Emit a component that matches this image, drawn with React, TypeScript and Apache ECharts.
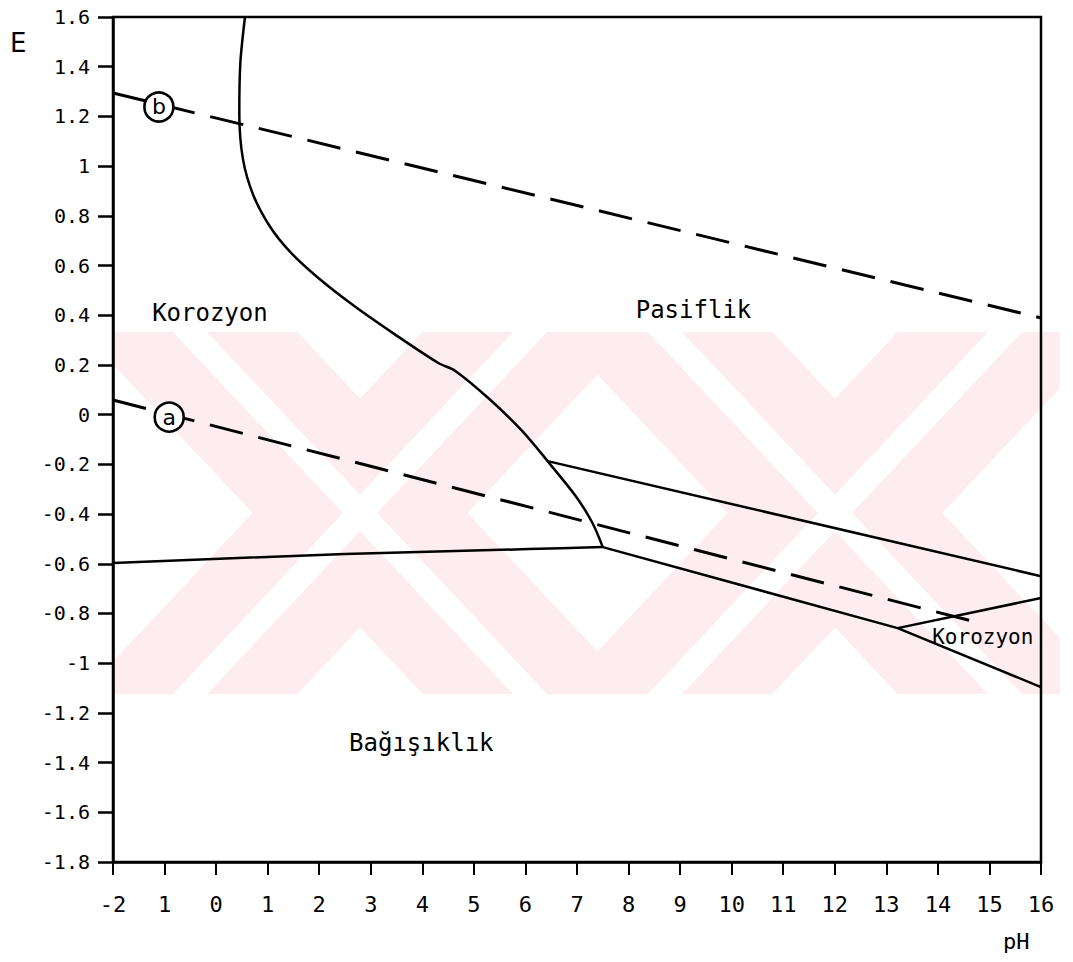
import React, { useEffect, useRef } from "react";
import * as echarts from "echarts";

// ---- data (pH, E) ----
const passivityCurve: number[][] = [
  [0.56, 1.6], [0.47, 1.415], [0.45, 1.214], [0.52, 1.029], [0.72, 0.884],
  [1.05, 0.755], [1.44, 0.654], [1.96, 0.554], [2.68, 0.437], [3.46, 0.324],
  [4.31, 0.208], [4.64, 0.176], [5.3, 0.063], [5.94, -0.066], [6.43, -0.187],
  [6.99, -0.332], [7.3, -0.436], [7.5, -0.533],
];
const immunityLine: number[][] = [[-2, -0.597], [2.5, -0.561], [6.06, -0.541], [7.5, -0.533]];
const upperLine: number[][] = [[6.43, -0.187], [16, -0.65]];
const lowerLine: number[][] = [[7.5, -0.533], [13.22, -0.859], [16, -1.096]];
const triangleTop: number[][] = [[13.22, -0.859], [16, -0.738]];
const lineA: number[][] = [[-2, 0.059], [14.82, -0.839]];
const lineB: number[][] = [[-2, 1.294], [16, 0.389]];
const circleMarks = [
  { name: "b", value: [-1.11, 1.238] },
  { name: "a", value: [-0.91, -0.01] },
];
const regionLabels = [
  { name: "Korozyon", value: [-0.12, 0.409] },
  { name: "Pasiflik", value: [9.26, 0.421] },
  { name: "Bağışıklık", value: [3.98, -1.322] },
];
const smallRegionLabel = { name: "Korozyon", value: [13.88, -0.895] };
const xTickLabels: Record<number, string> = { [-1]: "1" };

const MONO = "DejaVu Sans Mono";
const SANS = "DejaVu Sans";

function band(xt: number, xb: number, w: number, y0: number, y1: number) {
  return [
    [xt - w / 2, y0],
    [xt + w / 2, y0],
    [xb + w / 2, y1],
    [xb - w / 2, y1],
  ];
}

export default function App() {
  const ref = useRef<HTMLDivElement>(null);
  useEffect(() => {
    if (!ref.current) return;
    const chart = echarts.init(ref.current, null, { renderer: "svg" });
    const Y0 = 332;
    const Y1 = 694;
    const pink = "#fdedf0";
    // watermark "XX": [top centre, bottom centre]
    const armDefs = [
      [190, 530],
      [530, 190],
      [665, 1005],
      [1005, 665],
    ];
    const watermark: any[] = [];
    armDefs.forEach(([t, b]) =>
      watermark.push({ type: "polygon", z: -3, silent: true, shape: { points: band(t, b, 215, Y0, Y1) }, style: { fill: pink } })
    );
    armDefs.forEach(([t, b]) =>
      watermark.push({ type: "polygon", z: -2, silent: true, shape: { points: band(t, b, 34, Y0, Y1) }, style: { fill: "#ffffff" } })
    );
    watermark.push({ type: "rect", z: -1, silent: true, shape: { x: 1060, y: Y0 - 2, width: 30, height: Y1 - Y0 + 4 }, style: { fill: "#ffffff" } });
    watermark.push({ type: "rect", z: -1, silent: true, shape: { x: 40, y: Y0 - 2, width: 73, height: Y1 - Y0 + 4 }, style: { fill: "#ffffff" } });

    const solid = { color: "#000", width: 2.5 };
    const dashed = { color: "#000", width: 3, type: [34, 16] as any };

    chart.setOption({
      animation: false,
      backgroundColor: "#fff",
      grid: {
        left: 113,
        right: 32,
        top: 17,
        bottom: 100,
        show: true,
        borderColor: "#000",
        borderWidth: 2.5,
        outerBoundsMode: "none",
      } as any,
      xAxis: {
        type: "value",
        min: -2,
        max: 16,
        interval: 1,
        axisLine: { onZero: false, lineStyle: { color: "#000", width: 2.5 } },
        axisTick: { inside: false, length: 13, lineStyle: { color: "#000", width: 2 } },
        axisLabel: {
          margin: 31,
          fontSize: 22,
          fontFamily: MONO,
          color: "#000",
          formatter: (v: number) => (xTickLabels[v] !== undefined ? xTickLabels[v] : String(v)),
        },
        splitLine: { show: false },
      },
      yAxis: {
        type: "value",
        min: -1.8,
        max: 1.6,
        interval: 0.2,
        axisLine: { onZero: false, lineStyle: { color: "#000", width: 2.5 } },
        axisTick: { inside: false, length: 15, lineStyle: { color: "#000", width: 2.5 } },
        axisLabel: {
          margin: 23,
          fontSize: 20,
          fontFamily: MONO,
          color: "#000",
          formatter: (v: number) => String(Math.round(v * 10) / 10),
        },
        splitLine: { show: false },
      },
      graphic: [
        ...watermark,
        { type: "text", x: 10, y: 30, style: { text: "E", fontSize: 26, fontFamily: SANS, fill: "#000" } },
        { type: "text", x: 1003, y: 930, style: { text: "pH", fontSize: 22, fontFamily: MONO, fill: "#000" } },
      ],
      series: [
        { type: "line", name: "passivity", data: passivityCurve, smooth: 0.3, symbol: "none", lineStyle: solid, z: 3 },
        { type: "line", name: "immunity", data: immunityLine, smooth: 0.3, symbol: "none", lineStyle: solid, z: 3 },
        { type: "line", name: "upper", data: upperLine, symbol: "none", lineStyle: solid, z: 3 },
        { type: "line", name: "lower", data: lowerLine, symbol: "none", lineStyle: solid, z: 3 },
        { type: "line", name: "triangle", data: triangleTop, symbol: "none", lineStyle: solid, z: 3 },
        { type: "line", name: "a", data: lineA, symbol: "none", lineStyle: dashed, z: 3 },
        { type: "line", name: "b", data: lineB, symbol: "none", lineStyle: dashed, z: 3 },
        {
          type: "scatter",
          name: "circles",
          data: circleMarks,
          symbol: "circle",
          symbolSize: 29,
          itemStyle: { color: "#fff", borderColor: "#000", borderWidth: 2.6, opacity: 1 },
          label: { show: true, position: "inside", formatter: "{b}", fontSize: 22, fontFamily: SANS, color: "#000" },
          z: 5,
        },
        {
          type: "scatter",
          name: "regions",
          silent: true,
          data: [
            ...regionLabels,
            { ...smallRegionLabel, label: { position: "right", distance: 0, fontSize: 21 } },
          ],
          symbolSize: 1,
          itemStyle: { color: "rgba(255,255,255,0)" },
          label: {
            show: true,
            position: "inside",
            formatter: "{b}",
            fontSize: 24,
            fontFamily: MONO,
            color: "#000",
            opacity: 1,
            textBorderWidth: 0,
          },
          z: 6,
        },
      ],
    });
    return () => chart.dispose();
  }, []);
  return <div ref={ref} style={{ position: "absolute", left: 0, top: 0, width: 1073, height: 962 }} />;
}
